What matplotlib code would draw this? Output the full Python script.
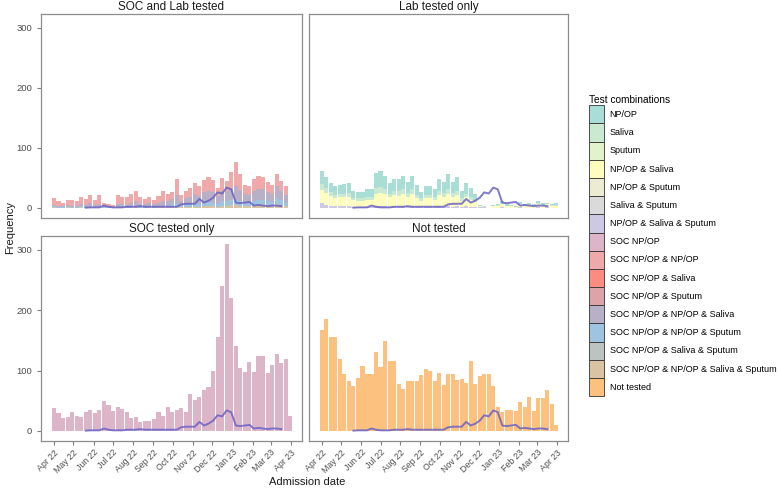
import numpy as np
import pandas as pd
import matplotlib
matplotlib.use("Agg")
import matplotlib.pyplot as plt
import matplotlib.dates as mdates
from matplotlib.patches import Patch

plt.rcParams['font.family'] = ['Liberation Sans', 'DejaVu Sans']

# weekly admission dates
weeks = pd.date_range('2022-04-01', periods=53, freq='7D')
line_weeks = pd.date_range('2022-05-20', periods=44, freq='7D')

# overall line (same in every panel)
line_vals = [0.5, 1, 1, 1, 4, 2, 1, 1, 1, 2, 2, 2, 3, 2, 2, 2, 2, 2, 2, 2, 2, 6,
             7, 7, 7, 15, 9, 12, 17, 26, 24, 34, 31, 9, 8, 9, 10, 4, 5, 4, 3, 4, 4, 3]

# SOC and Lab tested
tl_tan = [1,0,0,1,0,0,1,0,1,0,1,0,0,0,1,1,0,1,1,0,0,1,0,1,1,1,2,2,1,2,2,2,2,3,3,3,2,4,4,5,5,4,3,3,4,5,6,5,4,6,5,3,0]
tl_blue = [2,2,1,2,2,1,2,2,3,2,2,1,1,1,2,2,2,3,3,2,2,2,2,2,3,3,4,5,3,4,5,6,5,6,7,6,5,7,7,8,9,8,6,6,8,9,8,7,6,10,8,6,0]
tl_grey = [2,2,2,2,2,2,3,3,4,3,4,2,2,1,3,3,3,5,7,5,4,5,4,5,8,7,9,14,8,10,12,15,13,17,19,17,13,18,17,20,22,18,14,13,17,18,17,15,13,20,15,13,0]
tl_pink = [11,7,6,8,9,8,13,10,13,9,14,6,4,3,15,13,13,14,18,12,9,10,7,12,17,13,12,27,10,12,15,18,16,20,22,20,14,21,17,27,41,27,16,15,19,21,20,16,15,21,17,15,0]

# Lab tested only
tr_lav = [8,5,4,3,3,3,3,2,2,2,2,2,3,3,3,2,3,2,3,2,3,2,2,2,2,2,3,2,3,2,3,2,3,2,2,1,1,0,0,0,1,0,0,0,1,0,0,0,1,0,1,0,0]
tr_yel = [22,20,16,14,15,15,16,11,10,10,12,12,20,22,20,16,18,18,20,16,20,14,10,14,14,12,18,16,20,16,18,10,15,12,8,2,1,0,3,4,5,3,3,2,5,4,5,4,6,4,5,4,4]
tr_sal = [10,8,6,5,6,6,6,4,4,4,5,5,10,10,8,6,8,8,9,7,8,6,4,6,6,5,8,7,9,7,8,4,6,5,4,1,1,0,0,1,2,1,0,0,1,1,1,1,2,1,1,1,1]
tr_npop = [21,18,16,14,15,16,16,12,10,11,12,12,25,26,22,18,19,20,22,18,22,16,11,14,14,13,20,18,24,18,22,12,17,14,9,1,0,0,2,2,3,2,2,1,3,2,3,2,3,3,2,2,3]

# SOC tested only
soc_only = [38,30,21,23,31,24,23,31,35,30,34,49,43,33,39,37,31,21,23,15,17,17,19,31,25,40,31,34,38,32,
            62,52,57,68,73,99,156,240,309,220,141,105,97,114,97,124,124,96,110,127,112,120,25]

# Not tested
not_tested = [167,186,155,155,119,95,82,75,87,107,95,94,131,106,149,116,116,78,70,82,82,82,92,103,100,83,96,
              76,95,94,85,86,80,116,77,91,95,94,74,40,32,35,35,33,48,40,57,33,55,55,68,44,9]

legend_labels = ['NP/OP', 'Saliva', 'Sputum', 'NP/OP & Saliva', 'NP/OP & Sputum', 'Saliva & Sputum',
                 'NP/OP & Saliva & Sputum', 'SOC NP/OP', 'SOC NP/OP & NP/OP', 'SOC NP/OP & Saliva',
                 'SOC NP/OP & Sputum', 'SOC NP/OP & NP/OP & Saliva', 'SOC NP/OP & NP/OP & Sputum',
                 'SOC NP/OP & Saliva & Sputum', 'SOC NP/OP & NP/OP & Saliva & Sputum', 'Not tested']
legend_colors = ['#a9ded6', '#c9e9d0', '#e3f3c9', '#fdfdbd', '#ececd2', '#dadada', '#cdc9e4',
                 '#dcb6c8', '#efa9ab', '#fc8c82', '#dea3a9', '#b8b0c7', '#9fc4e2', '#bcc3c0',
                 '#dac3a2', '#fdc17f']
col = dict(zip(legend_labels, legend_colors))
line_color = '#6a62c4'

fig = plt.figure(figsize=(7.78, 4.91), dpi=100)
W, H = 778, 491
boxes = {
    'SOC and Lab tested': (41, 14, 302, 218),
    'Lab tested only': (309, 14, 568, 218),
    'SOC tested only': (41, 236, 302, 441),
    'Not tested': (309, 236, 568, 441),
}
panels = {
    'SOC and Lab tested': [(tl_tan, 'SOC NP/OP & NP/OP & Saliva & Sputum'),
                           (tl_blue, 'SOC NP/OP & NP/OP & Sputum'),
                           (tl_grey, 'SOC NP/OP & NP/OP & Saliva'),
                           (tl_pink, 'SOC NP/OP & NP/OP')],
    'Lab tested only': [(tr_lav, 'NP/OP & Saliva & Sputum'),
                        (tr_yel, 'NP/OP & Saliva'),
                        (tr_sal, 'Saliva'),
                        (tr_npop, 'NP/OP')],
    'SOC tested only': [(soc_only, 'SOC NP/OP')],
    'Not tested': [(not_tested, 'Not tested')],
}

grey = '#4d4d4d'
for name, (x0, y0, x1, y1) in boxes.items():
    ax = fig.add_axes([x0 / W, 1 - y1 / H, (x1 - x0) / W, (y1 - y0) / H])
    bottom = np.zeros(len(weeks))
    for vals, lab in panels[name]:
        ax.bar(weeks, vals, width=6.3, bottom=bottom, color=col[lab], linewidth=0)
        bottom = bottom + np.array(vals)
    ax.plot(line_weeks, line_vals, color=line_color, lw=1.4, alpha=0.85)
    ax.set_ylim(-16.7, 323)
    ax.set_xlim(pd.Timestamp('2022-03-12'), pd.Timestamp('2023-04-18'))
    ax.set_yticks([0, 100, 200, 300])
    ax.xaxis.set_major_locator(mdates.MonthLocator())
    ax.xaxis.set_major_formatter(mdates.DateFormatter('%b %y'))
    ax.set_title(name, fontsize=8.5, color='#1a1a1a', pad=3)
    for s in ax.spines.values():
        s.set_color('#8c8c8c')
        s.set_linewidth(0.9)
    ax.tick_params(colors='#7f7f7f', labelcolor=grey, labelsize=6.8, length=3, width=0.8)
    if name in ('SOC and Lab tested', 'Lab tested only'):
        ax.tick_params(axis='x', bottom=False, labelbottom=False)
    else:
        ax.tick_params(axis='x', labelsize=6.3, pad=2)
        plt.setp(ax.get_xticklabels(), rotation=45, ha='right', rotation_mode='anchor')
    if name in ('Lab tested only', 'Not tested'):
        ax.tick_params(axis='y', left=False, labelleft=False)

fig.text(10 / W, 1 - 228 / H, 'Frequency', rotation=90, va='center', ha='center', fontsize=8, color='#1a1a1a')
fig.text(307 / W, 1 - 482 / H, 'Admission date', va='center', ha='center', fontsize=8, color='#1a1a1a')

handles = [Patch(facecolor=c, edgecolor='#333333', linewidth=0.6) for c in legend_colors]
leg = fig.legend(handles, legend_labels, loc='upper left', bbox_to_anchor=(583 / W, 1 - 89 / H),
                 title='Test combinations', fontsize=6.5, title_fontsize=7.3, frameon=False,
                 handlelength=1.65, handleheight=2.72, handletextpad=0.6, labelspacing=0.0,
                 borderpad=0.2)
leg._legend_box.align = 'left'

fig.savefig('out.png', dpi=100)
